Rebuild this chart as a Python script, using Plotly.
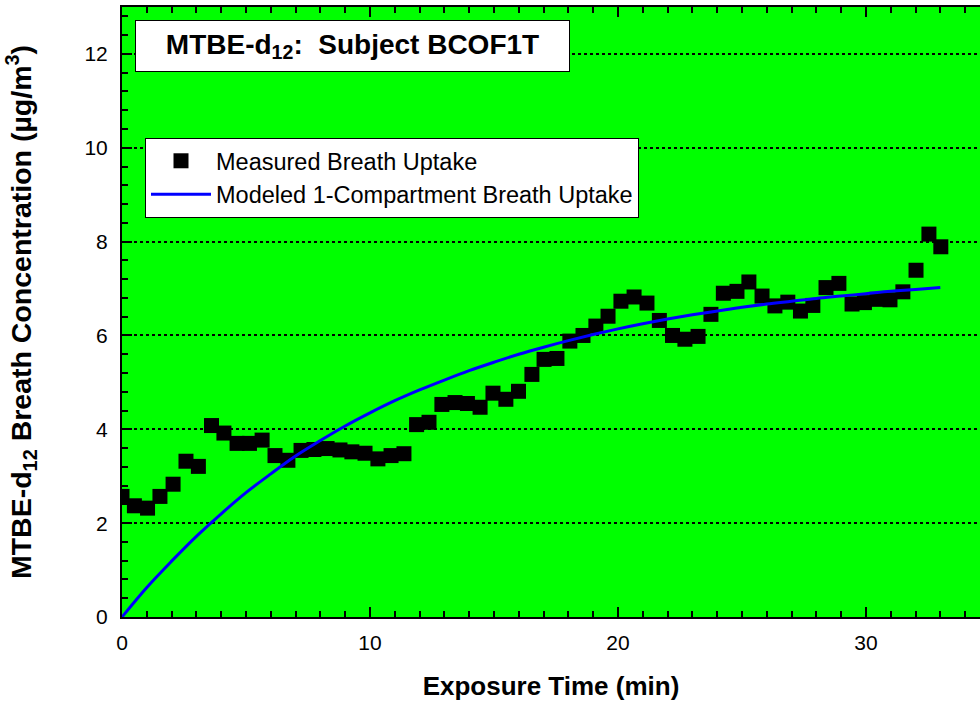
import plotly.graph_objects as go

# Measured breath uptake (minutes, µg/m3)
time_min = [0.00, 0.50, 1.03, 1.53, 2.06, 2.58, 3.08, 3.61, 4.11, 4.64, 5.14, 5.65,
            6.17, 6.69, 7.22, 7.74, 8.27, 8.79, 9.27, 9.80, 10.32, 10.85, 11.37, 11.88,
            12.38, 12.90, 13.43, 13.93, 14.44, 14.96, 15.48, 15.99, 16.53, 17.02, 17.54,
            18.06, 18.59, 19.11, 19.60, 20.12, 20.65, 21.17, 21.67, 22.20, 22.70, 23.23,
            23.75, 24.25, 24.80, 25.28, 25.81, 26.33, 26.85, 27.36, 27.86, 28.39, 28.91,
            29.44, 29.94, 30.44, 30.97, 31.49, 32.02, 32.54, 33.02]
measured = [2.57, 2.37, 2.32, 2.57, 2.83, 3.32, 3.21, 4.08, 3.92, 3.70, 3.70, 3.77,
            3.44, 3.34, 3.55, 3.57, 3.59, 3.56, 3.52, 3.49, 3.37, 3.44, 3.48, 4.10,
            4.15, 4.53, 4.57, 4.55, 4.47, 4.77, 4.64, 4.81, 5.17, 5.49, 5.51,
            5.88, 6.00, 6.20, 6.41, 6.73, 6.82, 6.69, 6.32, 6.00, 5.92, 5.98,
            6.45, 6.90, 6.94, 7.14, 6.84, 6.63, 6.71, 6.52, 6.64, 7.02, 7.11,
            6.67, 6.70, 6.77, 6.76, 6.93, 7.39, 8.16, 7.89]

# Modeled 1-compartment curve
model_time = list(range(0, 34))
modeled = [0, 0.63, 1.19, 1.72, 2.20, 2.65, 3.05, 3.43, 3.76, 4.07, 4.35, 4.61, 4.84,
           5.05, 5.25, 5.43, 5.60, 5.75, 5.89, 6.02, 6.14, 6.25, 6.35, 6.44, 6.52,
           6.60, 6.67, 6.73, 6.79, 6.84, 6.89, 6.94, 6.98, 7.02]

y_ticks = [0, 2, 4, 6, 8, 10, 12]
x_ticks = [0, 10, 20, 30]

FONT = "Liberation Sans, Arial, sans-serif"

fig = go.Figure()
fig.add_trace(go.Scatter(
    x=time_min, y=measured, mode="markers",
    name="Measured Breath Uptake",
    marker=dict(symbol="square", size=15, color="black", line=dict(width=0)),
))
fig.add_trace(go.Scatter(
    x=model_time, y=modeled, mode="lines",
    name="Modeled 1-Compartment Breath Uptake",
    line=dict(color="#0000FF", width=3, shape="spline"),
))

fig.update_layout(
    width=980, height=704,
    margin=dict(l=122, r=0, t=7, b=87, autoexpand=False),
    paper_bgcolor="white",
    plot_bgcolor="#00FF00",
    font=dict(family=FONT, color="black", size=20),
    showlegend=True,
    legend=dict(
        x=(145 - 122) / 858, y=(617 - 138) / 610, xanchor="left", yanchor="top",
        bgcolor="white", bordercolor="black", borderwidth=1,
        font=dict(family=FONT, size=23.5, color="black"),
        itemwidth=60, tracegroupgap=0,
    ),
    xaxis=dict(
        range=[0, 34.6], tickvals=x_ticks, ticktext=[str(v) for v in x_ticks],
        ticks="inside", ticklen=10, tickwidth=1.5, tickcolor="black",
        minor=dict(dtick=1, ticks="inside", ticklen=6, tickwidth=1.5, tickcolor="black", showgrid=False),
        showline=True, linecolor="black", linewidth=2, mirror="ticks",
        showgrid=False, zeroline=False,
        tickfont=dict(family=FONT, size=21), ticklabelstandoff=6,
        title=dict(text="<b>Exposure Time (min)</b>", font=dict(family=FONT, size=26), standoff=24),
    ),
    yaxis=dict(
        range=[0, 13], tickvals=y_ticks, ticktext=[str(v) for v in y_ticks],
        ticks="inside", ticklen=10, tickwidth=1.5, tickcolor="black",
        minor=dict(dtick=0.4, tick0=0, ticks="inside", ticklen=6, tickwidth=1.5, tickcolor="black", showgrid=False),
        showline=True, linecolor="black", linewidth=2, mirror=False,
        showgrid=True, gridcolor="black", gridwidth=1.5, griddash="dot",
        zeroline=False,
        tickfont=dict(family=FONT, size=21), ticklabelstandoff=8,
        title=dict(text="<b>MTBE-d<sub>12</sub> Breath Concentration (µg/m<sup>3</sup>)</b>",
                   font=dict(family=FONT, size=28.5), standoff=44),
    ),
)

# Title box
fig.add_annotation(
    xref="paper", yref="paper",
    x=(135 - 122) / 858, y=(617 - 20) / 610, xanchor="left", yanchor="top",
    text="<b>MTBE-d<sub>12</sub>:  Subject BCOF1T</b>",
    showarrow=False, bgcolor="white", bordercolor="black", borderwidth=1,
    borderpad=0, width=433, height=50, align="center",
    font=dict(family=FONT, size=28, color="black"),
)

fig.write_html("out.html")
